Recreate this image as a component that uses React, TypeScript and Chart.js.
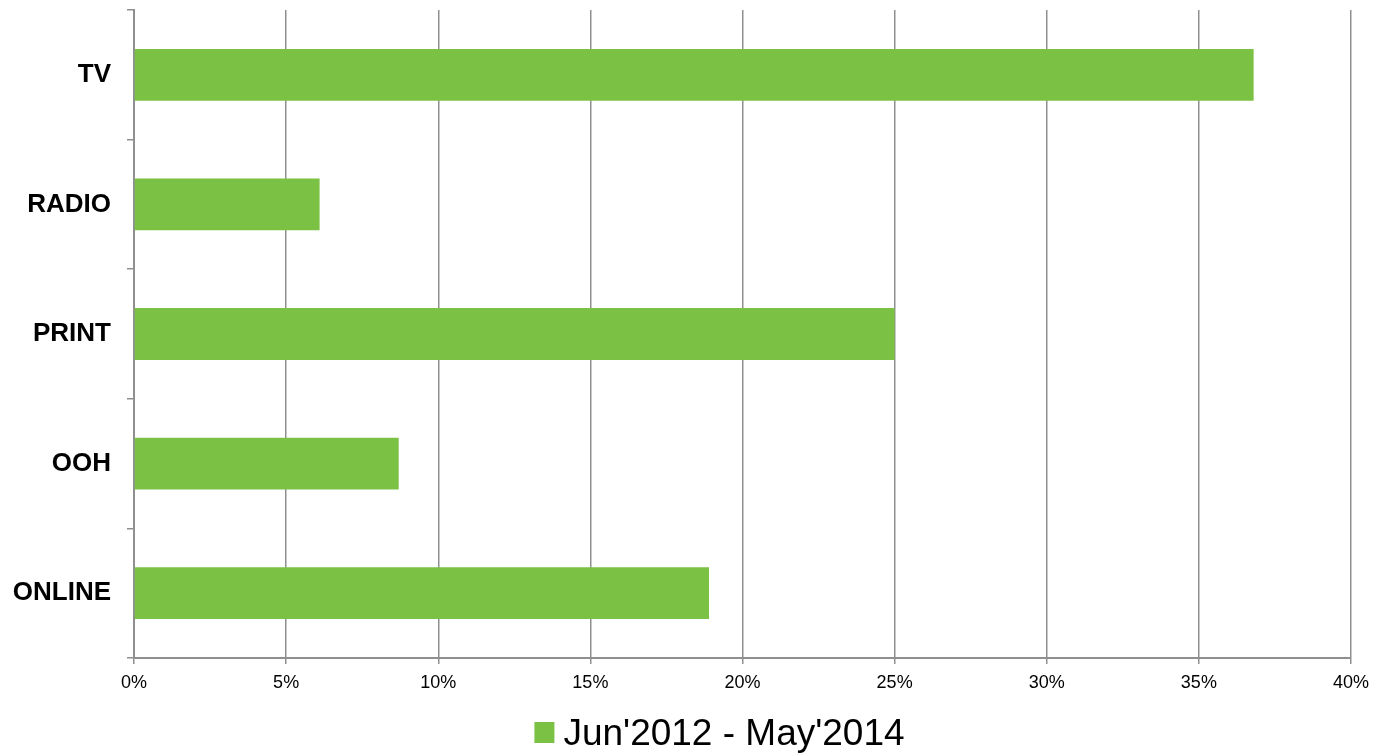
import React, { useEffect, useRef } from "react";
import { Chart, registerables } from "chart.js";

Chart.register(...registerables);

const categories = ["TV", "RADIO", "PRINT", "OOH", "ONLINE"];
const seriesLabel = "Jun'2012 - May'2014";
const seriesValues = [36.8, 6.1, 25.0, 8.7, 18.9];
const xTicks = [0, 5, 10, 15, 20, 25, 30, 35, 40];

const BAR_COLOR = "#7BC143";
const GRID_COLOR = "#8f8f8f";
const FONT = "'Liberation Sans', Arial, sans-serif";

const customLegend = {
  id: "customLegend",
  afterDraw(chart: any) {
    const ctx = chart.ctx;
    const ds = chart.data.datasets[0];
    const area = chart.chartArea;
    ctx.save();
    ctx.font = `37px ${FONT}`;
    const tw = ctx.measureText(ds.label).width;
    const box = 20;
    const gap = 9;
    const total = box + gap + tw;
    const cx = (area.left + area.right) / 2 - 23;
    const x0 = cx - total / 2;
    const baseline = 745;
    ctx.fillStyle = ds.backgroundColor;
    ctx.fillRect(x0, 722, box, 21);
    ctx.fillStyle = "#000";
    ctx.textBaseline = "alphabetic";
    ctx.textAlign = "left";
    ctx.fillText(ds.label, x0 + box + gap, baseline);
    ctx.restore();
  },
};

export default function App() {
  const ref = useRef<HTMLCanvasElement | null>(null);
  useEffect(() => {
    document.body.style.margin = "0";
    const chart = new Chart(ref.current as HTMLCanvasElement, {
      type: "bar",
      data: {
        labels: categories,
        datasets: [
          {
            label: seriesLabel,
            data: seriesValues,
            backgroundColor: BAR_COLOR,
            borderWidth: 0,
            categoryPercentage: 1,
            barPercentage: 0.4,
          },
        ],
      },
      options: {
        indexAxis: "y",
        animation: false,
        responsive: true,
        maintainAspectRatio: false,
        layout: { padding: { top: 10, right: 22, bottom: 55, left: 0 } },
        plugins: {
          legend: { display: false },
          tooltip: { enabled: false },
        },
        scales: {
          x: {
            min: 0,
            max: 40,
            afterBuildTicks(axis: any) {
              axis.ticks = xTicks.map((v) => ({ value: v }));
            },
            afterFit(axis: any) {
              axis.height = 40;
              axis.paddingLeft = 0;
              axis.paddingRight = 0;
            },
            grid: {
              color: GRID_COLOR,
              lineWidth: 1.5,
              tickLength: 6,
            },
            border: { color: GRID_COLOR, width: 2 },
            ticks: {
              color: "#000",
              padding: 8,
              font: { family: FONT, size: 18 },
              callback: (v: any) => `${v}%`,
            },
          },
          y: {
            afterFit(axis: any) {
              axis.width = 134;
              axis.paddingTop = 0;
              axis.paddingBottom = 0;
            },
            grid: {
              drawOnChartArea: false,
              color: GRID_COLOR,
              lineWidth: 1.5,
              tickLength: 7,
              offset: true,
            },
            border: { color: GRID_COLOR, width: 2 },
            ticks: {
              color: "#000",
              padding: 16,
              font: { family: FONT, size: 26, weight: "bold" },
            },
          },
        },
      },
      plugins: [customLegend],
    });
    return () => chart.destroy();
  }, []);
  return (
    <div style={{ position: "fixed", left: 0, top: 0, width: 1373, height: 753 }}>
      <canvas ref={ref} />
    </div>
  );
}
